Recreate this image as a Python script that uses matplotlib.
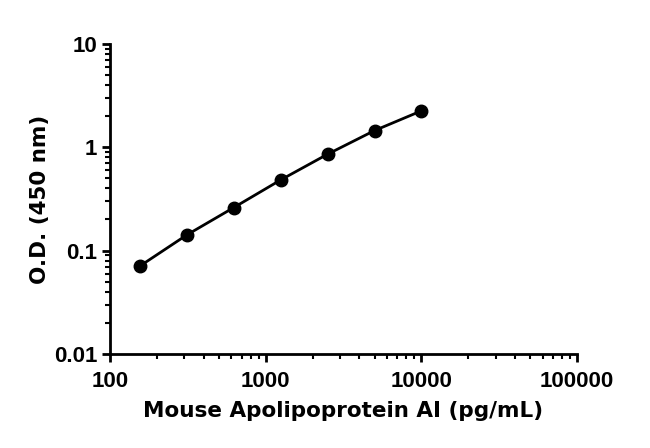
import matplotlib
matplotlib.use("Agg")
import matplotlib.pyplot as plt
from matplotlib.ticker import LogLocator, FixedLocator, NullFormatter

conc = [156.25, 312.5, 625, 1250, 2500, 5000, 10000]
od = [0.071, 0.142, 0.261, 0.483, 0.857, 1.45, 2.25]
xticks = [100, 1000, 10000, 100000]
xtick_labels = ["100", "1000", "10000", "100000"]
yticks = [0.01, 0.1, 1, 10]
ytick_labels = ["0.01", "0.1", "1", "10"]

plt.rcParams['font.family'] = ['Liberation Sans', 'DejaVu Sans']
plt.rcParams['font.weight'] = 'bold'

fig = plt.figure(figsize=(6.5, 4.48), dpi=100)
ax = fig.add_axes([0.169, 0.210, 0.719, 0.692])

ax.plot(conc, od, color='black', lw=2, marker='o', ms=9, mfc='black', mec='black', clip_on=False)

ax.set_xscale('log')
ax.set_yscale('log')
ax.set_xlim(100, 100000)
ax.set_ylim(0.01, 10)

ax.xaxis.set_major_locator(FixedLocator(xticks))
ax.set_xticklabels(xtick_labels)
ax.yaxis.set_major_locator(FixedLocator(yticks))
ax.set_yticklabels(ytick_labels)
ax.xaxis.set_minor_locator(LogLocator(base=10, subs=range(2, 10)))
ax.yaxis.set_minor_locator(LogLocator(base=10, subs=range(2, 10)))
ax.xaxis.set_minor_formatter(NullFormatter())
ax.yaxis.set_minor_formatter(NullFormatter())

for s in ['top', 'right']:
    ax.spines[s].set_visible(False)
for s in ['left', 'bottom']:
    ax.spines[s].set_linewidth(2)

ax.tick_params(which='major', direction='out', length=6, width=2, labelsize=16)
ax.tick_params(axis='x', which='major', pad=6)
ax.tick_params(axis='y', which='major', pad=3)
ax.tick_params(which='minor', direction='out', length=3.5, width=1.5)

for lab in ax.get_xticklabels() + ax.get_yticklabels():
    lab.set_fontweight('bold')

ax.set_xlabel("Mouse Apolipoprotein AI (pg/mL)", fontsize=15.5, fontweight='bold',
              family=['DejaVu Sans'], labelpad=7)
ax.set_ylabel("O.D. (450 nm)", fontsize=15.5, fontweight='bold',
              family=['DejaVu Sans'], labelpad=3)

fig.savefig("out.png", dpi=100)
